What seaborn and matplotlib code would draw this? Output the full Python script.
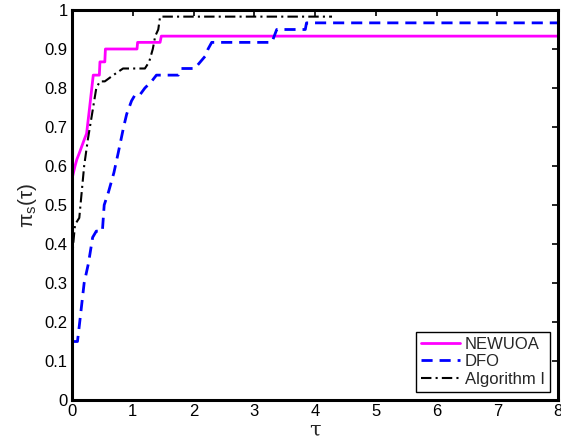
import matplotlib
matplotlib.use("Agg")
import matplotlib.pyplot as plt
import seaborn as sns
import pandas as pd

# ---- data ----
newuoa_tau = [0, 0.05, 0.08, 0.12, 0.2, 0.24, 0.29, 0.35, 0.45, 0.46, 0.54, 0.55, 1.07, 1.08, 1.45, 1.47, 8]
newuoa_pi = [0.567, 0.6, 0.617, 0.633, 0.667, 0.683, 0.75, 0.833, 0.833, 0.867, 0.867, 0.9, 0.9, 0.917, 0.917, 0.933, 0.933]

dfo_tau = [0, 0.09, 0.12, 0.2, 0.27, 0.34, 0.4, 0.5, 0.53, 0.6, 0.69, 0.76, 0.85, 0.9, 0.98, 1.04,
           1.12, 1.2, 1.31, 1.39, 1.75, 1.8, 2.02, 2.2, 2.24, 2.3, 3.29, 3.37, 3.84, 3.86, 8]
dfo_pi = [0.15, 0.15, 0.19, 0.3, 0.35, 0.417, 0.433, 0.433, 0.5, 0.533, 0.583, 0.633, 0.7, 0.733, 0.767, 0.783,
          0.783, 0.8, 0.817, 0.833, 0.833, 0.85, 0.85, 0.883, 0.9, 0.917, 0.917, 0.95, 0.95, 0.967, 0.967]

alg_tau = [0, 0.02, 0.05, 0.12, 0.15, 0.2, 0.26, 0.33, 0.4, 0.46, 0.54, 0.68, 0.84, 1.2, 1.27, 1.33,
           1.37, 1.42, 1.45, 4.28]
alg_pi = [0.35, 0.4, 0.45, 0.467, 0.517, 0.6, 0.667, 0.733, 0.8, 0.817, 0.817, 0.833, 0.85, 0.85, 0.867, 0.9,
          0.933, 0.95, 0.983, 0.983]

series_names = ["NEWUOA", "DFO", "Algorithm I"]
x_ticks = [0, 1, 2, 3, 4, 5, 6, 7, 8]
y_ticks = [0, 0.1, 0.2, 0.3, 0.4, 0.5, 0.6, 0.7, 0.8, 0.9, 1]
y_tick_labels = ["0", "0.1", "0.2", "0.3", "0.4", "0.5", "0.6", "0.7", "0.8", "0.9", "1"]

# ---- style ----
sns.set_style("white")
plt.rcParams["font.family"] = ["Liberation Sans", "DejaVu Sans"]
plt.rcParams["mathtext.default"] = "regular"

fig = plt.figure(figsize=(5.61, 4.43), dpi=100)
ax = fig.add_axes([72 / 561, 43 / 443, 486 / 561, 390 / 443])

styles = [
    dict(color="#ff00ff", linestyle="-", linewidth=2.0),
    dict(color="#0000ff", linestyle=(0, (4, 2.5)), linewidth=2.0),
    dict(color="black", linestyle=(0, (5, 2, 1, 2)), linewidth=1.5),
]
data = [(newuoa_tau, newuoa_pi), (dfo_tau, dfo_pi), (alg_tau, alg_pi)]

for name, (tx, py), st in zip(series_names, data, styles):
    df = pd.DataFrame({"tau": tx, "pi": py})
    sns.lineplot(data=df, x="tau", y="pi", sort=False, estimator=None, ax=ax,
                 label=name, **st)

ax.set_xlim(0, 8)
ax.set_ylim(0, 1)
ax.set_xticks(x_ticks)
ax.set_xticklabels([str(t) for t in x_ticks])
ax.set_yticks(y_ticks)
ax.set_yticklabels(y_tick_labels)
ax.tick_params(direction="in", length=4, width=1.2, top=True, right=True,
               labelsize=12, colors="black", pad=3)
for s in ax.spines.values():
    s.set_visible(True)
    s.set_linewidth(2.2)
    s.set_color("black")

ax.set_xlabel("τ", fontsize=15, labelpad=1, family=["DejaVu Serif"])
ax.set_ylabel("π$_s$(τ)", fontsize=15, labelpad=4)

leg = ax.legend(loc="lower right", frameon=True, fancybox=False, fontsize=12,
                borderpad=0.3, labelspacing=0.15, handlelength=2.3, handletextpad=0.3,
                borderaxespad=0.5)
leg.get_frame().set_edgecolor("black")
leg.get_frame().set_linewidth(1.0)
leg.get_frame().set_alpha(1)

fig.savefig("out.png", dpi=100)
